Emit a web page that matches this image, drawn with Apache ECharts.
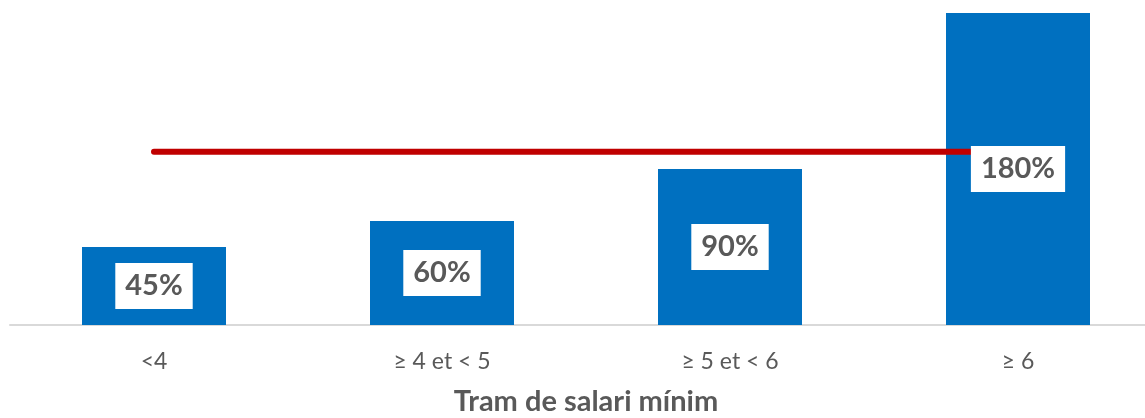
<!DOCTYPE html>
<html>
<head>
<meta charset="utf-8">
<script src="https://cdn.jsdelivr.net/npm/echarts@6/dist/echarts.min.js"></script>
<style>
html,body{margin:0;padding:0;background:#fff;}
#c{width:1145px;height:418px;}
</style>
</head>
<body>
<div id="c"></div>
<script>
const categories = ['<4', '≥ 4 et < 5', '≥ 5 et < 6', '≥ 6'];
const barValues = [45, 60, 90, 180];
const refLine = [100, 100, 100, 100];
const axisTitle = 'Tram de salari mínim';

const chart = echarts.init(document.getElementById('c'));
chart.setOption({
  animation: false,
  grid: { left: 10, right: -17, top: 13, bottom: 93, outerBoundsMode: 'none', containLabel: false },
  xAxis: {
    type: 'category',
    data: categories,
    axisTick: { show: false },
    axisLine: { lineStyle: { color: '#D9D9D9', width: 2 } },
    axisLabel: { color: '#595959', fontFamily: 'Lato', fontSize: 23, margin: 25 },
    name: axisTitle,
    nameLocation: 'middle',
    nameGap: 62,
    nameTextStyle: { color: '#595959', fontFamily: 'Lato', fontWeight: 'bold', fontSize: 29 }
  },
  yAxis: {
    type: 'value', min: 0, max: 180, show: false, splitLine: { show: false }
  },
  series: [
    {
      type: 'bar', data: barValues, barWidth: '50%', z: 2,
      itemStyle: { color: '#0070C0' }
    },
    {
      type: 'line', data: refLine, z: 3, symbol: 'none',
      lineStyle: { color: '#C00000', width: 6, cap: 'round' }
    },
    {
      type: 'bar', data: barValues, barWidth: '50%', barGap: '-100%', z: 4,
      itemStyle: { color: 'rgba(0,0,0,0)' },
      label: {
        show: true, position: 'inside',
        formatter: p => p.value + '%',
        color: '#595959', fontFamily: 'Lato', fontWeight: 'bold', fontSize: 29,
        backgroundColor: '#fff', padding: [10, 10, 7, 10]
      }
    }
  ]
});
</script>
</body>
</html>
